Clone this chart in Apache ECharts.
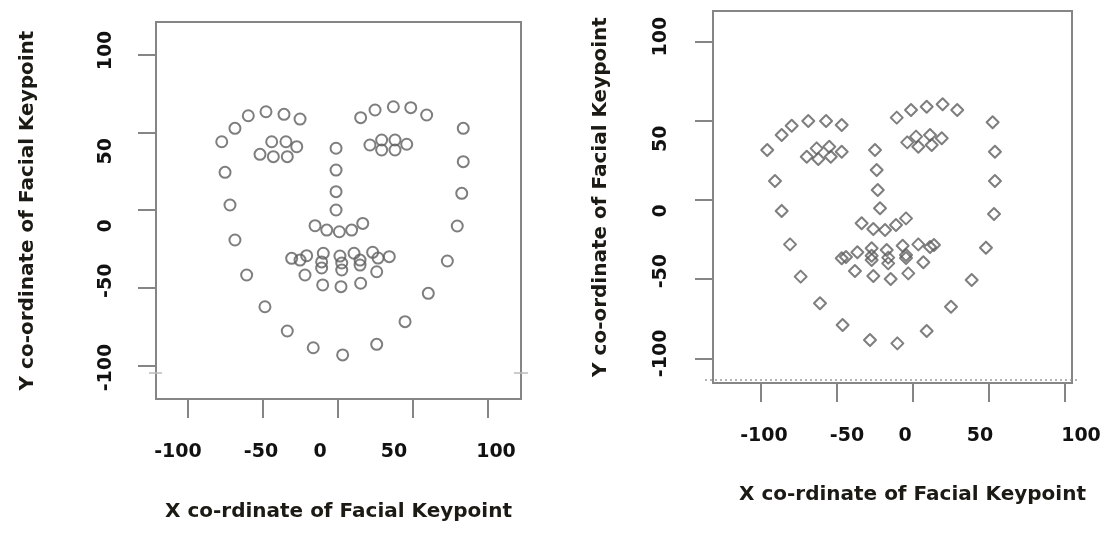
<!DOCTYPE html>
<html>
<head>
<meta charset="utf-8">
<script src="https://cdn.jsdelivr.net/npm/echarts@6/dist/echarts.min.js"></script>
<style>
html,body{margin:0;padding:0;background:#fff;}
#chart{width:1107px;height:533px;}
</style>
</head>
<body>
<div id="chart"></div>
<script>
// ---------- data ----------
const tickValues = [-100, -50, 0, 50, 100];
const tickLabels = ['-100', '-50', '0', '50', '100'];
const xTitle = 'X co-rdinate of Facial Keypoint';
const yTitle = 'Y co-ordinate of Facial Keypoint';

// left panel keypoints (68 landmarks)
const leftX = [
  -77.5, -75.3, -72.0, -68.7, -60.9, -48.7, -33.8, -16.5, 3.1, 25.8, 44.7, 60.2, 72.9, 79.5, 82.5, 83.5, 83.5,
  -68.7, -59.8, -48.0, -36.0, -25.3, 15.1, 24.7, 36.9, 48.5, 59.1,
  -1.3, -1.3, -1.3, -1.3, -15.3, -7.5, 0.9, 9.1, 16.5,
  -52.0, -44.2, -34.7, -27.5, -33.8, -43.1, 21.3, 29.1, 38.0, 45.8, 38.0, 29.1,
  -30.9, -20.9, -9.8, 1.3, 10.7, 23.1, 34.2, 25.8, 15.1, 2.0, -10.2, -22.0,
  -25.3, -10.9, 2.5, 14.7, 26.7, 14.7, 2.5, -10.9
];
const leftY = [
  43.9, 24.2, 3.2, -19.3, -41.8, -62.2, -77.8, -88.6, -93.2, -86.4, -71.8, -53.6, -32.8, -10.3, 10.7, 31.1, 52.5,
  52.5, 60.6, 63.2, 61.5, 58.5, 59.4, 64.3, 66.4, 65.8, 61.1,
  39.7, 25.7, 11.8, 0.0, -10.1, -12.9, -14.0, -12.9, -8.6,
  35.8, 43.9, 43.9, 40.7, 34.3, 34.3, 41.8, 45.0, 45.0, 42.3, 38.6, 38.6,
  -31.1, -29.4, -27.8, -29.6, -27.8, -27.2, -30.0, -39.7, -47.1, -49.3, -48.2, -41.8,
  -32.2, -33.4, -34.1, -32.2, -30.9, -35.4, -38.6, -37.3
];
// right panel keypoints (68 landmarks)
const rightX = [
  -95.9, -90.8, -86.4, -80.9, -73.9, -61.2, -46.3, -28.3, -10.3, 9.0, 25.0, 38.6, 48.0, 53.3, 53.9, 53.9, 52.4,
  -86.4, -79.8, -68.9, -57.2, -46.9, -10.7, -1.3, 9.0, 19.5, 29.1,
  -25.0, -23.9, -23.2, -21.7, -33.8, -26.1, -18.4, -11.2, -4.6,
  -69.9, -63.4, -55.1, -46.9, -54.1, -62.3, -3.8, 2.0, 11.2, 18.9, 12.3, 3.5,
  -46.9, -36.6, -27.2, -17.3, -6.8, 3.5, 13.8, 6.8, -3.1, -14.7, -26.1, -38.2,
  -44.1, -27.2, -16.3, -4.6, 11.2, -4.6, -16.3, -27.2
];
const rightY = [
  31.6, 12.0, -6.9, -28.0, -48.4, -65.2, -78.9, -88.4, -90.5, -82.7, -67.4, -50.5, -30.1, -8.8, 12.0, 30.5, 49.1,
  41.0, 46.9, 49.9, 49.9, 47.3, 52.0, 56.8, 58.9, 60.4, 56.8,
  31.6, 18.9, 6.3, -5.2, -14.7, -18.3, -18.9, -15.8, -11.6,
  27.3, 32.6, 33.6, 30.5, 27.3, 25.9, 36.4, 40.0, 41.0, 39.0, 34.7, 33.6,
  -36.8, -33.0, -30.5, -31.6, -28.9, -28.0, -28.4, -39.3, -46.3, -49.9, -48.0, -44.8,
  -36.0, -35.2, -36.4, -34.7, -29.7, -36.6, -40.0, -37.9
];

// ---------- layout / style (not data) ----------
const leftLabelShiftX = [-10, -2, -18, -19, 8];
const rightLabelShiftX = [3, 10, -8, -9, 16];
const leftLabelShiftY = [2, -7, 16, 19, -4];   // order follows tickValues; + = down on screen
const rightLabelShiftY = [-5, -8, 11, 18, -5];

const labelFont = {fontFamily: 'DejaVu Sans', fontWeight: 'bold', fontSize: 19, color: '#111'};
const titleFont = {fontFamily: 'DejaVu Sans', fontWeight: 'bold', fontSize: 20, color: '#1c1a14'};
const frameColor = '#858585';

function richFor(shifts, rotated) {
  const rich = {};
  shifts.forEach((d, i) => {
    const p = Math.abs(d) * 2;
    let pad;
    if (!rotated) pad = d >= 0 ? [0, 0, 0, p] : [0, p, 0, 0];
    else pad = d >= 0 ? [0, p, 0, 0] : [0, 0, 0, p];
    rich['s' + i] = Object.assign({padding: pad}, labelFont);
  });
  return rich;
}
function fmt(v) {
  const i = tickValues.indexOf(v);
  return '{s' + i + '|' + tickLabels[i] + '}';
}
function xAxisCfg(gridIndex, min, max, shifts, nameGap, namePad) {
  return {
    type: 'value', gridIndex, min, max, position: 'bottom',
    axisLine: {show: false, onZero: false},
    splitLine: {show: false},
    axisTick: {show: true, customValues: tickValues, length: 19, inside: false, lineStyle: {color: frameColor, width: 2}},
    axisLabel: Object.assign({customValues: tickValues, margin: 44, formatter: fmt, rich: richFor(shifts, false)}, labelFont),
    name: xTitle, nameLocation: 'middle', nameGap: nameGap,
    nameTextStyle: Object.assign({padding: namePad}, titleFont)
  };
}
function yAxisCfg(gridIndex, min, max, shifts, nameGap, margin) {
  return {
    type: 'value', gridIndex, min, max, position: 'left',
    axisLine: {show: false, onZero: false},
    splitLine: {show: false},
    axisTick: {show: true, customValues: tickValues, length: 18, lineStyle: {color: frameColor, width: 2}},
    axisLabel: Object.assign({customValues: tickValues, rotate: 90, margin: margin, formatter: fmt, rich: richFor(shifts, true)}, labelFont),
    name: yTitle, nameLocation: 'middle', nameGap: nameGap, nameRotate: 90,
    nameTextStyle: titleFont
  };
}

const chart = echarts.init(document.getElementById('chart'), null, {renderer: 'canvas'});
const markerStyle = {color: 'rgba(0,0,0,0)', borderColor: '#5e5e5e', borderWidth: 2};

chart.setOption({
  animation: false,
  backgroundColor: '#fff',
  grid: [
    {left: 156, top: 22, width: 365, height: 377, show: true, borderColor: frameColor, borderWidth: 2, backgroundColor: 'transparent'},
    {left: 713, top: 11, width: 359, height: 372, show: true, borderColor: frameColor, borderWidth: 2, backgroundColor: 'transparent'}
  ],
  xAxis: [
    xAxisCfg(0, -121.33, 122.0, leftLabelShiftX, 103, [0, 0, 0, 0]),
    xAxisCfg(1, -131.58, 104.61, rightLabelShiftX, 102, [0, 0, 0, 40])
  ],
  yAxis: [
    yAxisCfg(0, -121.54, 120.9, leftLabelShiftY, 118, 40),
    yAxisCfg(1, -115.53, 119.32, rightLabelShiftY, 102, 42)
  ],
  series: [
    {
      type: 'scatter', xAxisIndex: 0, yAxisIndex: 0,
      symbol: 'circle', symbolSize: 11,
      itemStyle: markerStyle,
      data: leftX.map((x, i) => [x, leftY[i]])
    },
    {
      type: 'scatter', xAxisIndex: 1, yAxisIndex: 1,
      symbol: 'diamond', symbolSize: 12,
      itemStyle: Object.assign({borderJoin: 'round'}, markerStyle),
      data: rightX.map((x, i) => [x, rightY[i]])
    }
  ],
  graphic: [
    {type: 'line', shape: {x1: 705, y1: 380, x2: 1078, y2: 380}, style: {stroke: '#9a9a9a', lineWidth: 1.5, lineDash: [2, 3]}, silent: true},
    {type: 'line', shape: {x1: 149, y1: 373, x2: 162, y2: 373}, style: {stroke: '#bbb', lineWidth: 1.5}, silent: true},
    {type: 'line', shape: {x1: 514, y1: 373, x2: 528, y2: 373}, style: {stroke: '#bbb', lineWidth: 1.5}, silent: true}
  ]
});
</script>
</body>
</html>
